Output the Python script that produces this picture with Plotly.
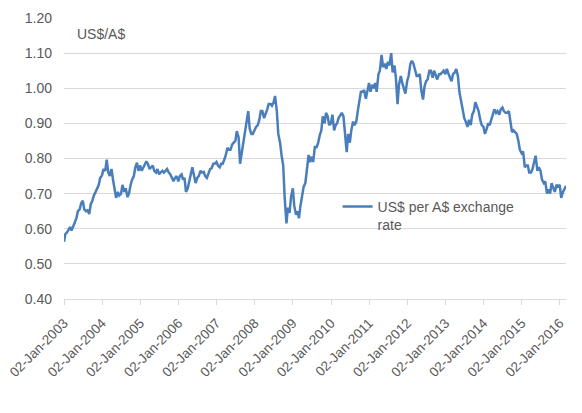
import plotly.graph_objects as go
import pandas as pd

# US$ per A$ at the 1st and 15th of each month
rate_2003 = [0.563, 0.585, 0.590, 0.598, 0.605, 0.595, 0.605, 0.618, 0.630, 0.650, 0.655, 0.672,
             0.680, 0.655, 0.650, 0.652, 0.642, 0.670, 0.680, 0.695, 0.705, 0.715, 0.725, 0.745]
rate_2004 = [0.752, 0.770, 0.765, 0.797, 0.760, 0.750, 0.770, 0.740, 0.715, 0.688, 0.705, 0.695,
             0.700, 0.725, 0.705, 0.715, 0.690, 0.700, 0.725, 0.740, 0.750, 0.775, 0.788, 0.765]
rate_2005 = [0.780, 0.765, 0.775, 0.785, 0.792, 0.785, 0.770, 0.775, 0.780, 0.765, 0.760, 0.770,
             0.755, 0.760, 0.765, 0.760, 0.765, 0.770, 0.760, 0.755, 0.745, 0.735, 0.745, 0.750]
rate_2006 = [0.735, 0.750, 0.755, 0.740, 0.745, 0.705, 0.715, 0.735, 0.760, 0.775, 0.750, 0.730,
             0.745, 0.750, 0.765, 0.760, 0.762, 0.750, 0.745, 0.755, 0.770, 0.772, 0.785, 0.785]
rate_2007 = [0.790, 0.780, 0.775, 0.785, 0.785, 0.795, 0.810, 0.830, 0.825, 0.825, 0.840, 0.845,
             0.850, 0.878, 0.860, 0.785, 0.820, 0.845, 0.885, 0.900, 0.935, 0.885, 0.870, 0.870]
rate_2008 = [0.880, 0.890, 0.895, 0.910, 0.935, 0.935, 0.915, 0.925, 0.940, 0.955, 0.955, 0.950,
             0.960, 0.978, 0.935, 0.870, 0.845, 0.810, 0.780, 0.690, 0.615, 0.660, 0.645, 0.690]
rate_2009 = [0.715, 0.665, 0.640, 0.650, 0.630, 0.665, 0.690, 0.720, 0.730, 0.760, 0.810, 0.790,
             0.805, 0.790, 0.835, 0.830, 0.845, 0.865, 0.880, 0.920, 0.900, 0.930, 0.920, 0.895]
rate_2010 = [0.900, 0.925, 0.880, 0.895, 0.900, 0.915, 0.925, 0.930, 0.920, 0.860, 0.818, 0.870,
             0.845, 0.880, 0.905, 0.895, 0.905, 0.935, 0.970, 0.990, 0.990, 0.995, 0.970, 0.990]
rate_2011 = [1.015, 0.990, 1.010, 1.000, 1.015, 0.990, 1.040, 1.050, 1.095, 1.060, 1.070, 1.055,
             1.075, 1.065, 1.100, 1.045, 1.065, 1.030, 0.955, 1.010, 1.035, 1.015, 0.995, 0.985]
rate_2012 = [1.020, 1.035, 1.070, 1.078, 1.070, 1.050, 1.035, 1.035, 1.040, 0.995, 0.968, 1.005,
             1.020, 1.025, 1.050, 1.050, 1.030, 1.050, 1.035, 1.025, 1.040, 1.040, 1.045, 1.050]
rate_2013 = [1.040, 1.055, 1.040, 1.030, 1.020, 1.040, 1.045, 1.055, 1.035, 0.990, 0.960, 0.945,
             0.915, 0.905, 0.890, 0.910, 0.895, 0.925, 0.935, 0.960, 0.945, 0.935, 0.910, 0.895]
rate_2014 = [0.890, 0.870, 0.885, 0.900, 0.895, 0.910, 0.925, 0.940, 0.930, 0.935, 0.925, 0.940,
             0.945, 0.935, 0.930, 0.930, 0.935, 0.900, 0.875, 0.880, 0.875, 0.870, 0.850, 0.825]
rate_2015 = [0.815, 0.820, 0.775, 0.780, 0.780, 0.760, 0.760, 0.770, 0.790, 0.808, 0.765, 0.775,
             0.765, 0.740, 0.730, 0.735, 0.700, 0.712, 0.700, 0.730, 0.715, 0.705, 0.725, 0.720]
rate_2016 = [0.725, 0.688, 0.705, 0.715, 0.722]

yearly = {2003: rate_2003, 2004: rate_2004, 2005: rate_2005, 2006: rate_2006,
          2007: rate_2007, 2008: rate_2008, 2009: rate_2009, 2010: rate_2010,
          2011: rate_2011, 2012: rate_2012, 2013: rate_2013, 2014: rate_2014,
          2015: rate_2015, 2016: rate_2016}

tick_years = list(range(2003, 2017))
tick_labels = [f"02-Jan-{y}" for y in tick_years]

dates, rates = [], []
for year, vals in yearly.items():
    for i, v in enumerate(vals):
        dates.append(pd.Timestamp(year, i // 2 + 1, 1 if i % 2 == 0 else 15))
        rates.append(v)
dates[0] = pd.Timestamp(2003, 1, 2)

grey = "#595959"
grid = "#d9d9d9"
font = "Liberation Sans, Arial, sans-serif"

fig = go.Figure()
fig.add_trace(go.Scatter(
    x=dates, y=rates, mode="lines",
    name="US$ per A$ exchange<br>rate",
    line=dict(color="#4a7ebb", width=2.5),
))

fig.add_annotation(
    text="US$/A$", xref="paper", yref="paper", x=0.022, y=0.943,
    xanchor="left", yanchor="middle", showarrow=False,
    font=dict(size=14, color=grey, family=font),
)

# page body has an 8px margin, so the figure is laid out 8px up and left
fig.update_layout(
    width=582, height=413,
    margin=dict(l=56, r=24, t=10, b=122),
    paper_bgcolor="white", plot_bgcolor="white",
    font=dict(family=font, size=14, color=grey),
    showlegend=True,
    legend=dict(x=0.545, y=0.385, xanchor="left", yanchor="top",
                bgcolor="rgba(0,0,0,0)", valign="top",
                font=dict(size=14, color=grey, family=font)),
    xaxis=dict(
        type="date", automargin=False,
        range=[pd.Timestamp(2003, 1, 2), pd.Timestamp(2016, 3, 1)],
        tickvals=[pd.Timestamp(y, 1, 2) for y in tick_years],
        ticktext=tick_labels,
        tickangle=-45,
        ticklabeloverflow="allow",
        ticklabelstandoff=5,
        showgrid=False,
        showline=True, linecolor=grid, linewidth=1,
        ticks="outside", tickcolor=grid, ticklen=5,
        tickfont=dict(size=13.5, color=grey),
    ),
    yaxis=dict(
        automargin=False,
        range=[0.4, 1.2], dtick=0.1, tick0=0.4, tickformat=".2f",
        showgrid=True, gridcolor=grid, gridwidth=1,
        zeroline=False, showline=False, ticks="",
        ticklabelstandoff=11,
        tickfont=dict(size=14, color=grey),
    ),
)

fig.write_html("out.html")
